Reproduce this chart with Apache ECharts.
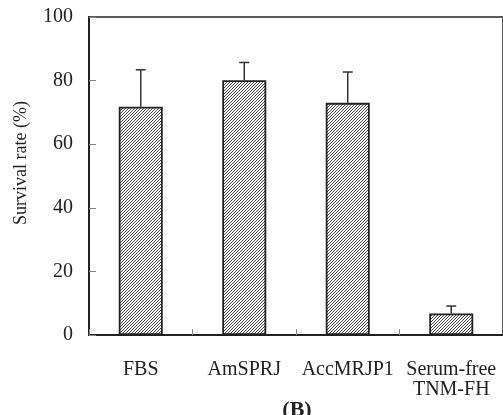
<!DOCTYPE html>
<html>
<head>
<meta charset="utf-8">
<script src="https://cdn.jsdelivr.net/npm/echarts@6/dist/echarts.min.js"></script>
<style>
  html, body { margin: 0; padding: 0; background: #fff; overflow: hidden; }
  #chart { width: 503px; height: 415px; }
</style>
</head>
<body>
<div id="chart"></div>
<script>
// data
var categories = ['FBS', 'AmSPRJ', 'AccMRJP1', 'Serum-free\nTNM-FH'];
var survival = [71.8, 80.1, 73.0, 6.8];
var errUp = [11.6, 5.6, 9.7, 2.3];
var yTicks = [0, 20, 40, 60, 80, 100];

var serif = 'Liberation Serif';
var ink = '#222';

// fine "/" hatch for the bars
function makeHatch() {
    var n = 3;
    var c = document.createElement('canvas');
    c.width = n;
    c.height = n;
    var ctx = c.getContext('2d');
    ctx.fillStyle = '#fff';
    ctx.fillRect(0, 0, n, n);
    ctx.strokeStyle = '#333';
    ctx.lineWidth = 0.9;
    ctx.beginPath();
    ctx.moveTo(-1, n + 1); ctx.lineTo(n + 1, -1);
    ctx.moveTo(-1, 1); ctx.lineTo(1, -1);
    ctx.moveTo(n - 1, n + 1); ctx.lineTo(n + 1, n - 1);
    ctx.stroke();
    return c;
}

var errData = survival.map(function (v, i) {
    return [i, v, v + errUp[i]];
});

var chart = echarts.init(document.getElementById('chart'));
var option = {
    animation: false,
    grid: {
        show: true,
        left: 89,
        top: 17,
        width: 424,
        bottom: 80,
        borderColor: ink,
        borderWidth: 1.5,
        backgroundColor: 'transparent'
    },
    xAxis: {
        type: 'category',
        data: categories,
        axisLine: { lineStyle: { color: ink, width: 2 } },
        axisTick: {
            show: true,
            inside: true,
            length: 6,
            alignWithLabel: false,
            lineStyle: { color: '#888', width: 1 }
        },
        axisLabel: {
            margin: 25,
            color: ink,
            fontFamily: serif,
            fontSize: 20,
            lineHeight: 20,
            interval: 0
        }
    },
    yAxis: {
        type: 'value',
        min: yTicks[0],
        max: yTicks[yTicks.length - 1],
        interval: 20,
        splitLine: { show: false },
        axisLine: { show: true, lineStyle: { color: ink, width: 2 } },
        axisTick: {
            show: true,
            inside: true,
            length: 7,
            lineStyle: { color: '#888', width: 1 }
        },
        axisLabel: {
            margin: 16,
            color: ink,
            fontFamily: serif,
            fontSize: 20
        }
    },
    graphic: [
        {
            type: 'text',
            x: 21,
            y: 163,
            rotation: Math.PI / 2,
            style: {
                text: 'Survival rate (%)',
                font: '18px "Liberation Serif"',
                fill: ink,
                align: 'center',
                verticalAlign: 'middle'
            }
        },
        {
            type: 'text',
            x: 297,
            y: 399,
            style: {
                text: '(B)',
                font: 'bold 22px "Liberation Serif"',
                fill: ink,
                align: 'center',
                verticalAlign: 'top'
            }
        }
    ],
    series: [
        {
            type: 'bar',
            data: survival,
            barWidth: 44,
            itemStyle: {
                color: { image: makeHatch(), repeat: 'repeat' },
                borderColor: ink,
                borderWidth: 1.8
            },
            z: 2
        },
        {
            type: 'custom',
            data: errData,
            z: 3,
            renderItem: function (params, api) {
                var i = api.value(0);
                var top = api.coord([i, api.value(2)]);
                var base = api.coord([i, api.value(1)]);
                var half = 5;
                var st = { stroke: '#333', lineWidth: 1.5 };
                return {
                    type: 'group',
                    children: [
                        { type: 'line', shape: { x1: top[0], y1: base[1], x2: top[0], y2: top[1] }, style: st },
                        { type: 'line', shape: { x1: top[0] - half, y1: top[1], x2: top[0] + half, y2: top[1] }, style: st }
                    ]
                };
            }
        }
    ]
};
chart.setOption(option);
</script>
</body>
</html>
